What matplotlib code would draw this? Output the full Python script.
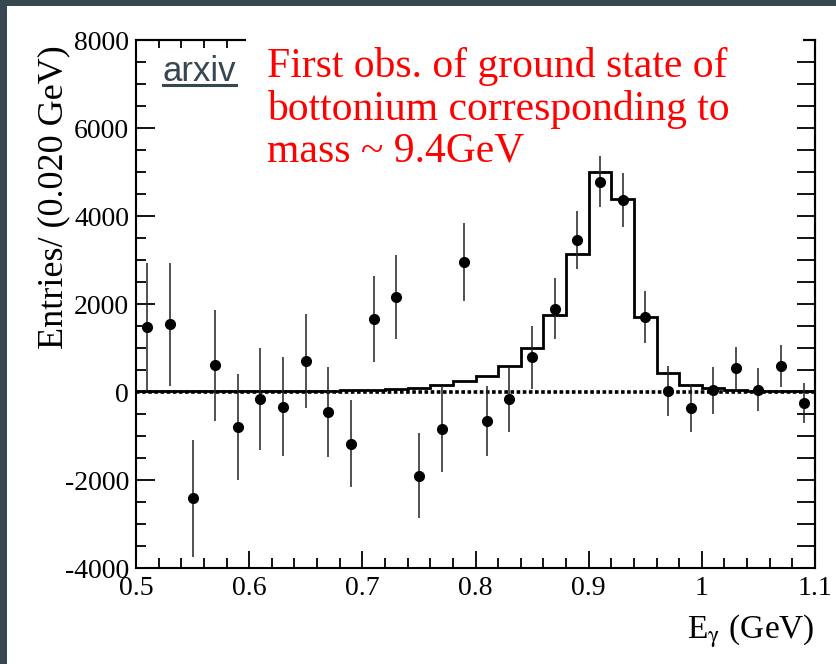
import numpy as np
import matplotlib
matplotlib.use("Agg")
import matplotlib.pyplot as plt
from matplotlib.patches import Rectangle
from matplotlib.ticker import MultipleLocator, FuncFormatter

# photon energy spectrum, 30 bins of 0.020 GeV from 0.5 to 1.1 GeV
bin_lo = 0.5
bin_hi = 1.1
bin_width = 0.02

entries = [1480, 1540, -2410, 610, -800, -150, -330, 710, -460, -1180,
           1660, 2160, -1900, -850, 2950, -660, -170, 790, 1890, 3450,
           4780, 4360, 1700, 20, -360, 40, 540, 55, 590, -260]
errors = [1460, 1400, 1330, 1260, 1210, 1160, 1120, 1070, 1025, 990,
          970, 950, 970, 970, 885, 790, 740, 713, 690, 664,
          580, 615, 590, 570, 550, 530, 490, 490, 480, 455]
fit = [18, 19, 20, 21, 22, 24, 26, 28, 30, 35,
       55, 75, 100, 153, 244, 364, 585, 1000, 1760, 3140,
       5010, 4390, 1710, 440, 150, 80, 45, 30, 20, 15]
background = 0

xlabel = r"E$_{\mathrm{γ}}$ (GeV)"
ylabel = "Entries/ (0.020 GeV)"
note = "First obs. of ground state of\nbottonium corresponding to\nmass ~ 9.4GeV"

plt.rcParams["font.family"] = ["Liberation Serif", "DejaVu Serif"]
plt.rcParams["mathtext.fontset"] = "stix"
plt.rcParams["axes.unicode_minus"] = False

edges = np.arange(bin_lo, bin_hi + bin_width / 2, bin_width)
centers = (edges[:-1] + edges[1:]) / 2

fig = plt.figure(figsize=(8.36, 6.64), dpi=100)
W, H = 836, 664
ax = fig.add_axes([136 / W, 1 - 568 / H, (815 - 136) / W, (568 - 40) / H])

ax.axhline(background, color="black", lw=2.6, ls=(0, (1.0, 0.7)), zorder=2)
ax.stairs(fit, edges, baseline=None, color="black", lw=2.0, zorder=3)
ax.errorbar(centers, entries, yerr=errors, fmt="o", color="black",
            ms=7, elinewidth=1.1, ecolor="#222222", capsize=0, zorder=4)

ax.set_xlim(bin_lo, bin_hi)
ax.set_ylim(-4000, 8000)
ax.xaxis.set_major_locator(MultipleLocator(0.1))
ax.xaxis.set_minor_locator(MultipleLocator(0.02))
ax.yaxis.set_major_locator(MultipleLocator(2000))
ax.yaxis.set_minor_locator(MultipleLocator(500))
ax.xaxis.set_major_formatter(FuncFormatter(lambda v, p: "%g" % round(v, 3)))
ax.tick_params(which="major", direction="in", labelsize=20, width=1.3)
ax.tick_params(axis="x", which="major", length=12, pad=6)
ax.tick_params(axis="y", which="major", length=14, pad=5)
ax.tick_params(which="minor", direction="in", length=7, width=1.3)
for s in ax.spines.values():
    s.set_linewidth(1.5)

# mirrored ticks on the right and top frame
sec_y = ax.secondary_yaxis("right")
sec_y.yaxis.set_major_locator(MultipleLocator(500))
sec_y.tick_params(direction="in", length=13, width=1.3, labelright=False)
sec_y.spines["right"].set_linewidth(1.5)
sec_x = ax.secondary_xaxis("top")
sec_x.xaxis.set_major_locator(MultipleLocator(0.02))
sec_x.tick_params(direction="in", length=6, width=1.3, labeltop=False)
sec_x.spines["top"].set_linewidth(1.5)

fig.text(815 / W, 1 - 638 / H, xlabel, ha="right", va="baseline", fontsize=24)
fig.text(54 / W, 1 - 197 / H, ylabel, rotation=90, ha="center", va="center", fontsize=26)

# white patch behind the annotation, hiding part of the top frame
fig.patches.append(Rectangle((246 / W, 1 - 60 / H), (803 - 246) / W, 45 / H,
                             transform=fig.transFigure, facecolor="white",
                             edgecolor="none", zorder=5))
fig.text(267 / W, 1 - 162 / H, note, ha="left", va="baseline", color="red",
         fontsize=30, linespacing=1.12, zorder=6)

# link label
fig.text(163 / W, 1 - 81 / H, "arxiv", family="Liberation Sans", color="#37474f",
         fontsize=25, ha="left", va="baseline", zorder=6)
fig.add_artist(plt.Line2D([163 / W, 236 / W], [1 - 85 / H, 1 - 85 / H],
                          transform=fig.transFigure, color="#37474f", lw=2.2, zorder=6))

# dark frame of the screenshot on top and left
fig.patches.append(Rectangle((0, 1 - 6 / H), 1, 6 / H, transform=fig.transFigure,
                             facecolor="#37474f", edgecolor="none", zorder=7))
fig.patches.append(Rectangle((0, 0), 7 / W, 1, transform=fig.transFigure,
                             facecolor="#37474f", edgecolor="none", zorder=7))

fig.savefig("out.png", dpi=100)
